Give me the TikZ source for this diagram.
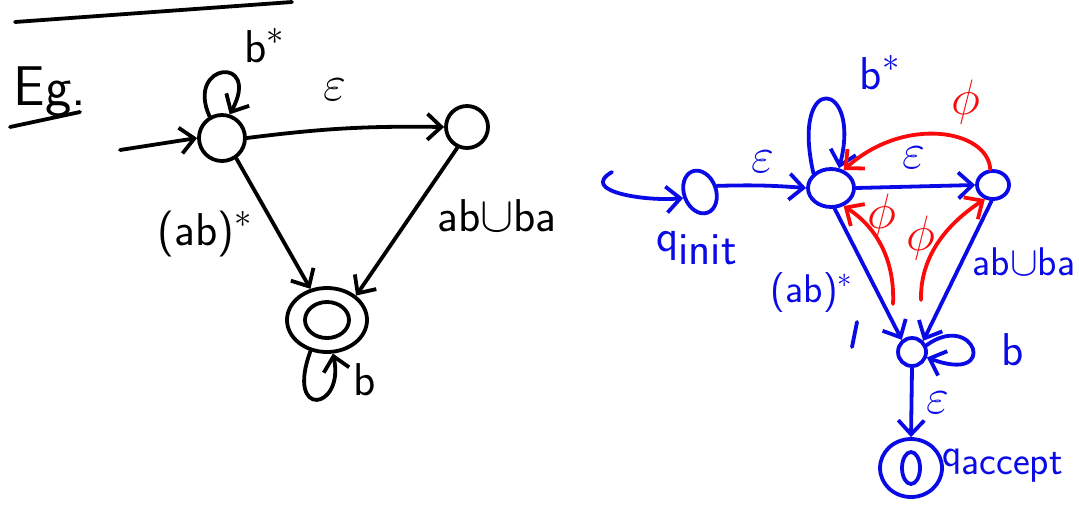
\documentclass[tikz,border=0pt]{standalone}
\usepackage{fontspec}
\usetikzlibrary{arrows.meta,shapes.geometric}
\definecolor{pen}{RGB}{0,0,0}
\definecolor{bpen}{RGB}{10,10,230}
\definecolor{rpen}{RGB}{250,10,10}
\begin{document}
\begin{tikzpicture}[x=0.5pt,y=-0.5pt,
  ink/.style={line width=1.9pt, line cap=round, line join=round},
  tip/.style={ink,-{Straight Barb[length=7pt,width=13pt,line width=1.9pt]}},
  st/.style={ellipse, draw, ink, inner sep=0pt},
  lab/.style={font=\sffamily\fontsize{23}{25}\selectfont, inner sep=1pt},
  slab/.style={font=\sffamily\fontsize{20}{22}\selectfont, inner sep=1pt},
  blue/.style={color=bpen},
  redp/.style={color=rpen}
]
\useasboundingbox (0,0) rectangle (1079,504);
% ---------- left diagram (black) ----------
\coordinate (tl1) at (15,22); \coordinate (tl2) at (292,2);
\draw[ink] (tl1) -- (tl2);
\node[lab, font=\sffamily\fontsize{28}{30}\selectfont] (eg) at (50,92) {Eg.};
\coordinate (ul1) at (10,127); \coordinate (ul2) at (80,112);
\draw[ink] (ul1) -- (ul2);

\node[st, minimum width=23pt, minimum height=23pt] (A) at (222,138) {};
\node[st, minimum width=21pt, minimum height=21pt] (B) at (467,127) {};
\node[st, minimum width=40pt, minimum height=32pt] (C) at (327,320) {};
\node[st, minimum width=22pt, minimum height=18pt] (Ci) at (C) {};
\coordinate (ini) at (120,150);

\draw[tip] (ini) -- (A.west);
\draw[tip] (A.120) .. controls (185,62) and (262,55) .. (A.72);
\node[lab] (lbs) at (265,46) {b$^{*}$};
\draw[tip] (A.east) to[bend left=4] (B.west);
\node[lab] (le1) at (335,90) {$\varepsilon$};
\draw[tip] (A.-55) -- (C.118);
\node[lab] (lab1) at (205,234) {(ab)$^{*}$};
\draw[tip] (B.-115) -- (C.40);
\node[lab] (lab2) at (497,216) {ab$\cup$ba};
\draw[tip] (C.-118) .. controls (285,420) and (345,410) .. (C.-80);
\node[lab] (lb1) at (365,380) {b};

% ---------- right diagram (blue/red) ----------
\begin{scope}[blue]
\node[st, rotate=20, minimum width=16pt, minimum height=22pt] (Q0) at (700,192) {};
\node[st, minimum width=23pt, minimum height=19pt] (S1) at (831,188) {};
\node[st, minimum width=16pt, minimum height=14pt] (S2) at (993,185) {};
\node[st, minimum width=14pt, minimum height=14pt] (S3) at (912,352) {};
\node[st, minimum width=31pt, minimum height=29pt] (S4) at (911,468) {};
\node[st, minimum width=9pt, minimum height=16pt] (S4i) at (S4) {};
\coordinate (hk) at (612,172);

\draw[tip] (hk) to[out=210,in=185,looseness=1.3] (Q0.west);
\node[lab] (qi) at (697,248) {q$_{\textsf{init}}$};
\draw[tip] (Q0.east) to[bend left=3] (S1.west);
\node[lab] (e1) at (763,162) {$\varepsilon$};
\draw[tip] (S1.140) .. controls (790,70) and (862,80) .. (S1.68);
\node[lab] (bs) at (880,73) {b$^{*}$};
\draw[tip] (S1.east) -- (S2.west);
\node[lab] (e2) at (914,158) {$\varepsilon$};
\draw[tip] (S1.-80) -- (S3.130);
\node[slab] (ab1) at (812,293) {(ab)$^{*}$};
\draw[tip] (S2.-95) -- (S3.45);
\node[slab] (ab2) at (1024,262) {ab$\cup$ba};
\draw[tip] (S3.25) .. controls (975,310) and (1000,385) .. (S3.-20);
\node[lab] (b2) at (1013,350) {b};
\draw[tip] (S3.south) -- (S4.north);
\node[lab] (e3) at (938,403) {$\varepsilon$};
\node[slab, anchor=west] (qa) at (940,466) {q$_{\textsf{accept}}$};
\coordinate (sm1) at (857,322); \coordinate (sm2) at (852,347);
\draw[ink] (sm1) -- (sm2);
\end{scope}

\begin{scope}[redp]
\coordinate (r1) at (893,304);
\coordinate (r2) at (921,300);
\draw[tip] (S2.100) .. controls (988,130) and (905,115) .. (S1.55);
\node[lab] (p1) at (966,102) {$\phi$};
\draw[tip] (r1) .. controls (895,262) and (878,228) .. (S1.-55);
\node[lab] (p2) at (882,216) {$\phi$};
\draw[tip] (r2) .. controls (920,258) and (945,225) .. (S2.-120);
\node[lab] (p3) at (921,238) {$\phi$};
\end{scope}
\end{tikzpicture}
\end{document}
